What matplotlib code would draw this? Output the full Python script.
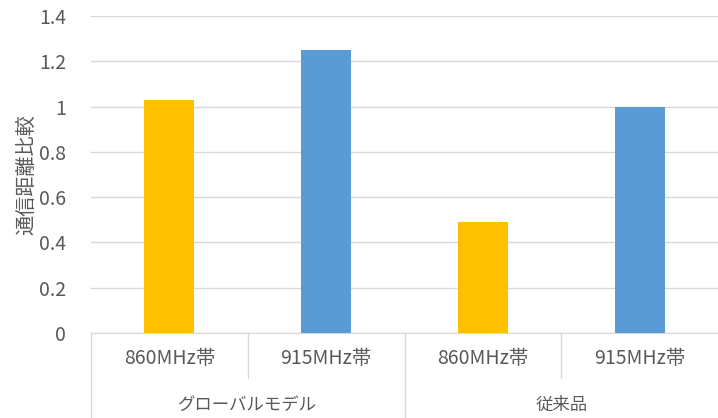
import matplotlib.pyplot as plt

plt.rcParams['font.family'] = ['Noto Sans CJK JP', 'DejaVu Sans']

groups = ['グローバルモデル', '従来品']
bands = ['860MHz帯', '915MHz帯', '860MHz帯', '915MHz帯']
values = [1.03, 1.25, 0.49, 1.0]
colors = ['#FFC000', '#5B9BD5', '#FFC000', '#5B9BD5']
yticks = [0, 0.2, 0.4, 0.6, 0.8, 1.0, 1.2, 1.4]
ytick_labels = ['0', '0.2', '0.4', '0.6', '0.8', '1', '1.2', '1.4']

W, H = 718, 418
fig = plt.figure(figsize=(W / 100, H / 100), dpi=100)
left, right, bottom, top = 91, 718, 333, 16
ax = fig.add_axes([left / W, (H - bottom) / H, (right - left) / W, (bottom - top) / H])

x = [i + 0.5 for i in range(len(values))]
ax.bar(x, values, width=0.32, color=colors, zorder=3)

ax.set_xlim(0, len(values))
ax.set_ylim(0, 1.4)
ax.set_yticks(yticks)
ax.set_yticklabels(ytick_labels)
ax.tick_params(axis='y', length=0, pad=18, labelsize=14, labelcolor='#595959')
ax.set_xticks([])
ax.grid(axis='y', color='#D9D9D9', linewidth=1, zorder=0)
for s in ['top', 'right', 'left']:
    ax.spines[s].set_visible(False)
ax.spines['bottom'].set_color('#D9D9D9')
ax.set_ylabel('通信距離比較', fontsize=14.5, color='#595959', labelpad=0)

# two-level category axis below the plot
def ya(pix):
    # pixel row -> axes y coordinate
    return (bottom - pix) / (bottom - top)

tr = ax.get_xaxis_transform()
line_kw = dict(color='#D9D9D9', linewidth=1, clip_on=False, transform=ax.transAxes)
ax.plot([0, 0], [ya(333), ya(418)], **line_kw)
ax.plot([0.5, 0.5], [ya(333), ya(418)], **line_kw)
ax.plot([0.25, 0.25], [ya(333), ya(378)], **line_kw)
ax.plot([0.75, 0.75], [ya(333), ya(378)], **line_kw)

for xi, b in zip(x, bands):
    ax.text(xi, ya(359), b, transform=tr, ha='center', va='center',
            fontsize=14, color='#595959')
for gi, g in enumerate(groups):
    ax.text(gi * 2 + 1, ya(405), g, transform=tr, ha='center', va='center',
            fontsize=12.5, color='#595959')

fig.savefig('out.png', dpi=100)
